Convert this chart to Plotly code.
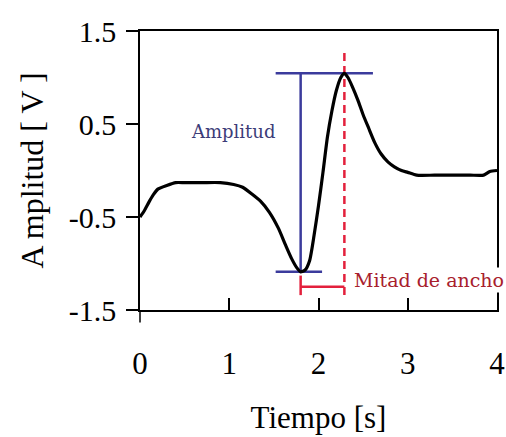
import plotly.graph_objects as go

# Signal trace: time [s] and amplitude [V]
tiempo = [0, 0.05, 0.1, 0.15, 0.2, 0.3, 0.4, 0.5, 0.7, 0.9, 1.05, 1.15, 1.25,
          1.35, 1.45, 1.55, 1.63, 1.7, 1.76, 1.8, 1.85, 1.9, 1.95, 2.0, 2.05,
          2.1, 2.15, 2.2, 2.25, 2.29, 2.33, 2.38, 2.44, 2.5, 2.56, 2.63, 2.7,
          2.78, 2.85, 2.93, 3.0, 3.1, 3.3, 3.5, 3.7, 3.85, 3.92, 4.0]
amplitud = [-0.5, -0.43, -0.34, -0.26, -0.2, -0.16, -0.13, -0.13, -0.13, -0.13,
            -0.15, -0.18, -0.25, -0.33, -0.45, -0.62, -0.8, -0.95, -1.05, -1.09,
            -1.07, -0.97, -0.7, -0.38, -0.02, 0.36, 0.64, 0.86, 1.0, 1.045, 1.0,
            0.9, 0.76, 0.6, 0.46, 0.3, 0.18, 0.09, 0.04, 0.0, -0.02, -0.05, -0.05,
            -0.05, -0.05, -0.05, -0.01, 0.0]

# Feature markers
t_min, v_min = 1.80, -1.09
t_max, v_max = 2.29, 1.045
ancho_y = -1.25

x_ticks = [0, 1, 2, 3, 4]
y_ticks = [-1.5, -0.5, 0.5, 1.5]
y_ticklabels = ["-1.5", "-0.5", "0.5", "1.5"]

BLUE = "#3b3b9c"
RED = "#e3203c"
serif = "Liberation Serif"

fig = go.Figure()

# Amplitude bracket (blue)
fig.add_trace(go.Scatter(x=[t_min - 0.28, t_max + 0.32], y=[v_max, v_max], mode="lines",
                         line=dict(color=BLUE, width=2.5), hoverinfo="skip"))
fig.add_trace(go.Scatter(x=[t_min - 0.28, t_min + 0.24], y=[v_min, v_min], mode="lines",
                         line=dict(color=BLUE, width=2.5), hoverinfo="skip"))
fig.add_trace(go.Scatter(x=[t_min, t_min], y=[v_min, v_max], mode="lines",
                         line=dict(color=BLUE, width=2.5), hoverinfo="skip"))

# Half-width markers (red)
fig.add_trace(go.Scatter(x=[t_max, t_max], y=[-1.34, 1.28], mode="lines",
                         line=dict(color=RED, width=2.5, dash="8px,5px"), hoverinfo="skip"))
fig.add_trace(go.Scatter(x=[t_min, t_min], y=[-1.13, -1.34], mode="lines",
                         line=dict(color=RED, width=2.5), hoverinfo="skip"))
fig.add_trace(go.Scatter(x=[t_min, t_max], y=[ancho_y, ancho_y], mode="lines",
                         line=dict(color=RED, width=2.5), hoverinfo="skip"))

# Signal
fig.add_trace(go.Scatter(x=tiempo, y=amplitud, mode="lines",
                         line=dict(color="black", width=3.2, shape="spline", smoothing=0.6),
                         hoverinfo="skip"))

fig.add_annotation(x=1.04, y=0.42, text="Amplitud", showarrow=False,
                   font=dict(family="DejaVu Serif", size=18, color="#3c3c78"))
fig.add_annotation(x=2.37, y=-1.18, text="Mitad de ancho", showarrow=False,
                   xanchor="left", bgcolor="white", borderpad=1,
                   font=dict(family="DejaVu Serif", size=19, color="#a8202c"))

# Short extension of the vertical axis below the frame
fig.add_shape(type="line", xref="paper", yref="paper", x0=0, x1=0, y0=0, y1=-0.045,
              line=dict(color="black", width=1.5))

fig.update_layout(
    width=506, height=437,
    margin=dict(l=140, r=9, t=31, b=127),
    paper_bgcolor="white", plot_bgcolor="white",
    showlegend=False,
    font=dict(family=serif, color="black"),
)
fig.update_xaxes(
    range=[0, 4], tickvals=x_ticks, ticks="inside", ticklen=12, tickwidth=1.5,
    tickcolor="black", showline=True, linecolor="black", linewidth=1.5, mirror=True,
    showgrid=False, zeroline=False, tickfont=dict(size=31), ticklabelstandoff=25,
    ticklabeloverflow="allow", automargin=False,
    title=dict(text="Tiempo [s]", font=dict(size=31), standoff=26),
)
fig.update_yaxes(
    range=[-1.5, 1.5], tickvals=y_ticks, ticktext=y_ticklabels, ticks="outside",
    ticklen=12, tickwidth=1.5, tickcolor="black", showline=True, linecolor="black",
    linewidth=1.5, mirror=True, showgrid=False, zeroline=False,
    tickfont=dict(size=30), ticklabelstandoff=4, automargin=False,
    title=dict(text="A mplitud [ V ]", font=dict(size=32), standoff=16),
)

fig.write_html("out.html")
